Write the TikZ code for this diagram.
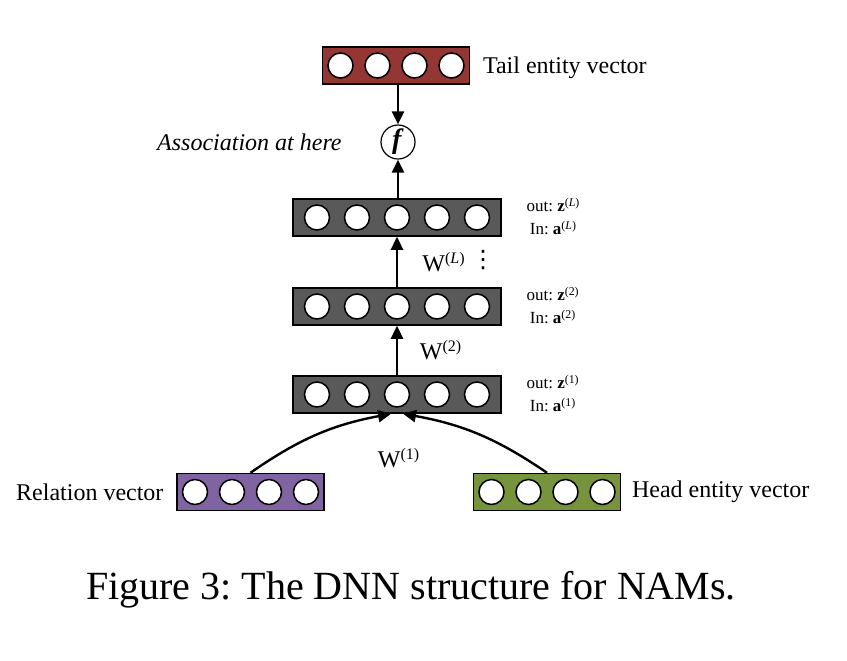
\documentclass[tikz,border=0pt]{standalone}
\usepackage{fontspec}
\setmainfont{Liberation Serif}
\newfontfamily\symfont{DejaVu Sans}
\usepackage{tikz}
\usetikzlibrary{calc,arrows.meta}
\definecolor{tailred}{RGB}{148,54,52}
\definecolor{layergray}{RGB}{89,89,89}
\definecolor{relpurple}{RGB}{128,100,162}
\definecolor{headgreen}{RGB}{119,147,60}
\frenchspacing

\begin{document}
\begin{tikzpicture}[x=0.5pt,y=-0.5pt,thick]
  % `layer' is the dark box of a hidden layer, `vec' an input/output vector.
  % `unit' is one neuron (white circle), `func' the association node.
  \tikzstyle{layer} = [draw=black,fill=layergray,line width=0.75pt,minimum width=104pt,minimum height=18.5pt,inner sep=0pt]
  \tikzstyle{vec} = [draw=black,line width=0.75pt,minimum width=73.5pt,minimum height=18.5pt,inner sep=0pt]
  \tikzstyle{unit} = [draw=black,fill=white,shape=circle,line width=0.75pt,minimum size=12.5pt,inner sep=0pt]
  \tikzstyle{func} = [draw=black,fill=white,shape=circle,line width=0.6pt,minimum size=17pt,inner sep=0pt]
  \tikzstyle{arrow} = [line width=1.2pt,-{Triangle[length=6.5pt,width=6pt]}]
  \tikzstyle{lbl} = [font=\fontsize{12}{14}\selectfont,inner sep=0pt]
  \tikzstyle{io} = [font=\fontsize{8.5}{11.5}\selectfont,align=center,inner sep=0pt]
  %
  \useasboundingbox (0,0) rectangle (847,660);
  % Vectors and layers.
  \node[vec,fill=tailred] (tail) at (396,65.5) {};
  \node[func] (f) at (398,142) {\fontsize{14}{16}\selectfont\textbf{\textit{f}}};
  \node[layer] (LL) at (397,217.5) {};
  \node[layer] (L2) at (397,306.5) {};
  \node[layer] (L1) at (397,394.5) {};
  \node[vec,fill=relpurple] (rel) at (250.5,492) {};
  \node[vec,fill=headgreen] (head) at (547,492) {};
  % Units.
  \foreach \v in {tail,rel,head}
    \foreach \dx in {-55.5,-18.5,18.5,55.5}
      \node[unit] at ($(\v)+(\dx,0)$) {};
  \foreach \v in {LL,L2,L1}
    \foreach \dx in {-80,-40,0,40,80}
      \node[unit] at ($(\v)+(\dx,0)$) {};
  % Labels.
  \node[lbl,anchor=west] (tailtxt) at ($(tail.east)+(12,2)$) {Tail entity vector};
  \node[lbl,anchor=east] (assoc) at ($(f.west)+(-38,0)$) {\itshape Association at here};
  \node[lbl,anchor=east] (reltxt) at ($(rel.west)+(-12,0)$) {Relation vector};
  \node[lbl,anchor=west] (headtxt) at ($(head.east)+(10,0)$) {Head entity vector};
  \node[io,anchor=west] (ioL) at ($(LL.east)+(24,-1)$) {out: \textbf{z}\textsuperscript{(\textit{L})}\\In: \textbf{a}\textsuperscript{(\textit{L})}};
  \node[io,anchor=west] (io2) at ($(L2.east)+(24,-1)$) {out: \textbf{z}\textsuperscript{(2)}\\In: \textbf{a}\textsuperscript{(2)}};
  \node[io,anchor=west] (io1) at ($(L1.east)+(24,-1)$) {out: \textbf{z}\textsuperscript{(1)}\\In: \textbf{a}\textsuperscript{(1)}};
  \node[lbl] (WL) at (444,262) {W\textsuperscript{(\textit{L})}};
  \node[lbl] (dots) at (483,260) {\symfont ⋮};
  \node[lbl] (W2) at (441,350) {W\textsuperscript{(2)}};
  \node[lbl] (W1) at (399,458) {W\textsuperscript{(1)}};
  % Connectors.
  \draw[arrow] (tail.south -| f) -- (f.north);
  \draw[arrow] (LL.north -| f) -- (f.south);
  \draw[arrow] (L2.north) -- (LL.south);
  \draw[arrow] (L1.north) -- (L2.south);
  \draw[arrow] (rel.north) to[bend left=12] ($(L1.south)+(-6,0)$);
  \draw[arrow] (head.north) to[bend right=12] ($(L1.south)+(6,0)$);
  % Caption.
  \node[font=\fontsize{20}{24}\selectfont] (cap) at (411,590) {Figure 3: The DNN structure for NAMs.};
\end{tikzpicture}
\end{document}
